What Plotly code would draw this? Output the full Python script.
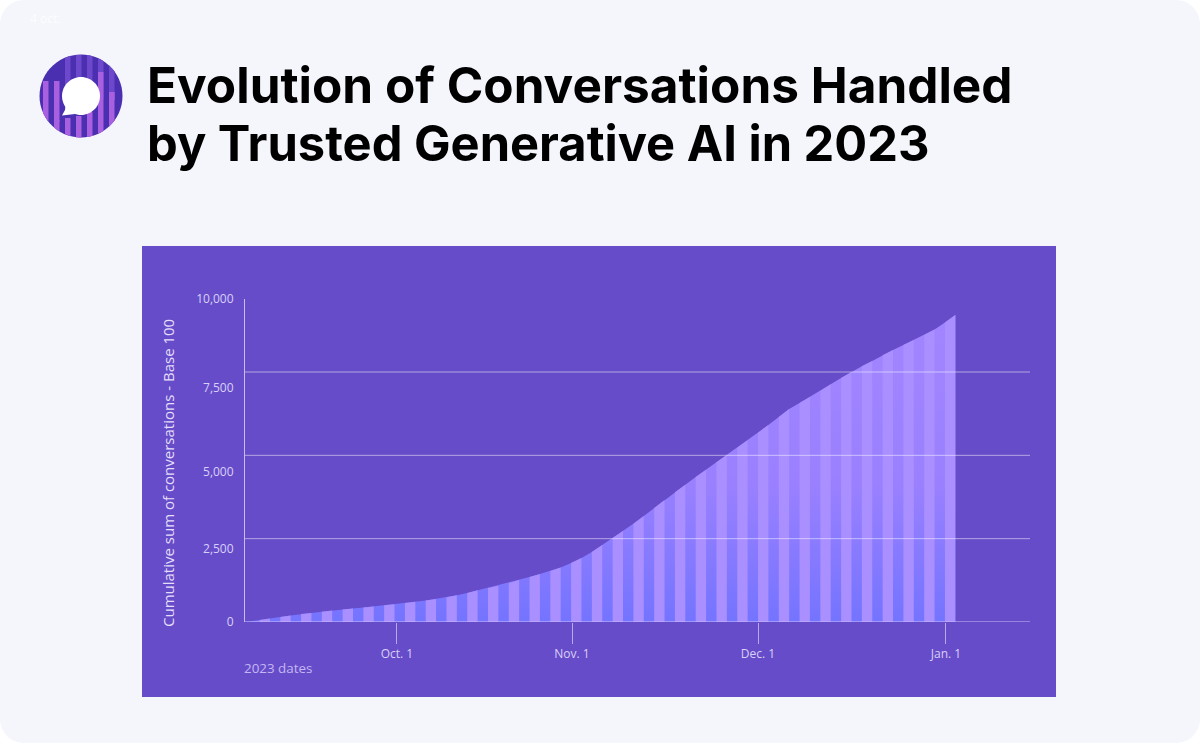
import math
import plotly.graph_objects as go

W, H = 1200, 743
L, R, T, B = 245, 1030, 299, 622

# Stripe boundaries are numbered k; the curve is read at each boundary.
stripe_k = list(range(1, 70))
curve = [15, 60, 105, 150, 195, 240, 270, 306, 345, 375, 405, 435, 465, 504, 534,
         570, 606, 645, 690, 740, 800, 870, 950, 1020, 1090, 1170, 1260, 1350, 1440, 1530,
         1635, 1770, 1920, 2100, 2310, 2520, 2730, 2950, 3180, 3420, 3660, 3890, 4120, 4350, 4570,
         4790, 5010, 5230, 5450, 5680, 5910, 6150, 6390, 6570, 6750, 6930, 7130, 7320, 7500, 7670,
         7830, 8000, 8160, 8310, 8460, 8610, 8775, 8985, 9210]
curve_start_k = 0.6

grid_values = [2500, 5000, 7500]
y_tick_positions = [0, 2190, 4500, 7020, 9690]
y_tick_labels = ["0", "2,500", "5,000", "7,500", "10,000"]
x_tick_positions = [15.23, 32.09, 50.0, 68.1]
x_tick_labels = ["Oct. 1", "Nov. 1", "Dec. 1", "Jan. 1"]
y_range = [0, 9690]

PAGE, PANEL = "#f4f6fb", "#664cc9"
LIGHT = "#a98fff"
TXT = "#d9d0f7"
FONT = "Open Sans"

px = lambda x: (x - L) / (R - L)
py = lambda y: (B - y) / (B - T)

shapes = []
def rect(x0, y0, x1, y1, color, layer="below"):
    shapes.append(dict(type="rect", xref="paper", yref="paper", x0=px(x0), x1=px(x1),
                       y0=py(y0), y1=py(y1), fillcolor=color, line_width=0, layer=layer))

def path(pts, color, layer="below", close=True):
    d = "M" + "L".join(f"{px(a):.5f},{py(b):.5f}" for a, b in pts) + ("Z" if close else "")
    shapes.append(dict(type="path", xref="paper", yref="paper", path=d, fillcolor=color,
                       line_width=0, layer=layer))

# rounded page card
rad = 24
corner = []
for cx, cy, a0 in [(rad, rad, 180), (W - rad, rad, 270), (W - rad, H - rad, 0), (rad, H - rad, 90)]:
    for i in range(13):
        a = math.radians(a0 + i * 7.5)
        corner.append((cx + rad * math.cos(a), cy + rad * math.sin(a)))
path(corner, PAGE)
rect(142, 246, 1056, 697, PANEL)

# icon: a disc filled with clipped vertical bars and a speech bubble
cx, cy, r = 81, 96, 41.5
def disc(cxx, cyy, rr, color):
    path([(cxx + rr * math.cos(i * math.pi / 30), cyy + rr * math.sin(i * math.pi / 30)) for i in range(60)], color)
def clipped_bar(x0, x1, y0, y1, color):
    pts_top, pts_bot = [], []
    for i in range(9):
        x = x0 + (x1 - x0) * i / 8
        h2 = r * r - (x - cx) ** 2
        if h2 <= 0:
            continue
        h = math.sqrt(h2)
        pts_top.append((x, max(y0, cy - h)))
        pts_bot.append((x, min(y1, cy + h)))
    if pts_top:
        path(pts_top + pts_bot[::-1], color)
disc(cx, cy, r, "#4a2fb0")
for x0 in [65, 76, 87, 98, 109]:
    clipped_bar(x0, x0 + 5.5, 55, 100, "#6d48cc")
for x0, y0 in [(43, 81), (54, 81)]:
    clipped_bar(x0, x0 + 5.5, y0, 122, "#a85fe0")
for x0, y0 in [(98, 72), (109, 92)]:
    clipped_bar(x0, x0 + 5.5, y0, 100, "#a85fe0")
for x0, y0 in [(54, 120), (65, 118), (76, 116), (87, 112), (98, 100), (109, 92)]:
    clipped_bar(x0 - 0.0, x0 + 5.5, y0, 138, "#a85fe0")
disc(81, 96, 19, "#ffffff")
path([(66, 102), (75, 114), (62, 115.5), (65, 110)], "#ffffff")

# gridlines drawn on top of the area, in data coordinates
for v in grid_values:
    shapes.append(dict(type="line", xref="paper", yref="y", x0=0, x1=1, y0=v, y1=v,
                       line=dict(color="rgba(255,255,255,0.5)", width=1), layer="above"))
shapes.append(dict(type="line", xref="paper", yref="y", x0=0, x1=1, y0=0, y1=0,
                   line=dict(color="#c9bcf5", width=1), layer="above"))

fig = go.Figure()
fig.add_trace(go.Scatter(
    x=[curve_start_k] + stripe_k, y=[0] + curve, mode="lines", line=dict(width=0),
    fill="tozeroy",
    fillgradient=dict(type="vertical",
                      colorscale=[[0, "#7474ff"], [0.45, "#9a80ff"], [1, "#a285ff"]]),
    hoverinfo="skip", showlegend=False))

lookup = dict(zip(stripe_k, curve))
sx, sy = [curve_start_k, 1, 1, curve_start_k, None], [0, lookup[1], 0, 0, None]
for k in range(2, 69, 2):
    sx += [k, k, k + 1, k + 1, None]
    sy += [0, lookup[k], lookup[k + 1], 0, None]
fig.add_trace(go.Scatter(x=sx, y=sy, mode="lines", line=dict(width=0), fill="toself",
                         fillcolor=LIGHT, hoverinfo="skip", showlegend=False))

def note(text, x, y, size, color=TXT, family=FONT, anchor="left", angle=0, weight=None):
    fig.add_annotation(text=text, xref="paper", yref="paper", x=px(x), y=py(y), showarrow=False,
                       xanchor=anchor, yanchor="middle", textangle=angle,
                       font=dict(size=size, color=color, family=family, weight=weight))

note("Evolution of Conversations Handled", 145, 85, 49.5, "#000000", "Inter", weight=700)
note("by Trusted Generative AI in 2023", 145, 143, 48.8, "#000000", "Inter", weight=700)
note("4 oct.", 28, 18, 12, "rgba(255,255,255,0.85)")
note("Cumulative sum of conversations - Base 100", 168, 473, 15, "#e4def9", anchor="center", angle=-90)
note("2023 dates", 242, 668, 13.4, "#c4b7f2")

fig.update_layout(
    width=W, height=H, margin=dict(l=L, r=W - R, t=T, b=H - B),
    paper_bgcolor="#ffffff", plot_bgcolor="rgba(0,0,0,0)", showlegend=False, hovermode=False,
    shapes=shapes,
    font=dict(family=FONT, color=TXT, size=12),
    xaxis=dict(range=[curve_start_k, curve_start_k + (R - L) / 10.385], tickmode="array",
               tickvals=x_tick_positions, ticktext=x_tick_labels, ticks="outside", ticklen=21,
               tickcolor="#b9a8f0", tickwidth=1, showgrid=False, zeroline=False, showline=False,
               tickfont=dict(size=12, color=TXT, family=FONT)),
    yaxis=dict(range=y_range, tickmode="array", tickvals=y_tick_positions, ticktext=y_tick_labels,
               ticks="", showgrid=False, zeroline=False, showline=True, linecolor="#c9bcf5", linewidth=1,
               ticklabelstandoff=8, tickfont=dict(size=12, color=TXT, family=FONT)),
)
fig.write_html("out.html", config={"displayModeBar": False},
               post_script="document.body.style.margin='0';")
